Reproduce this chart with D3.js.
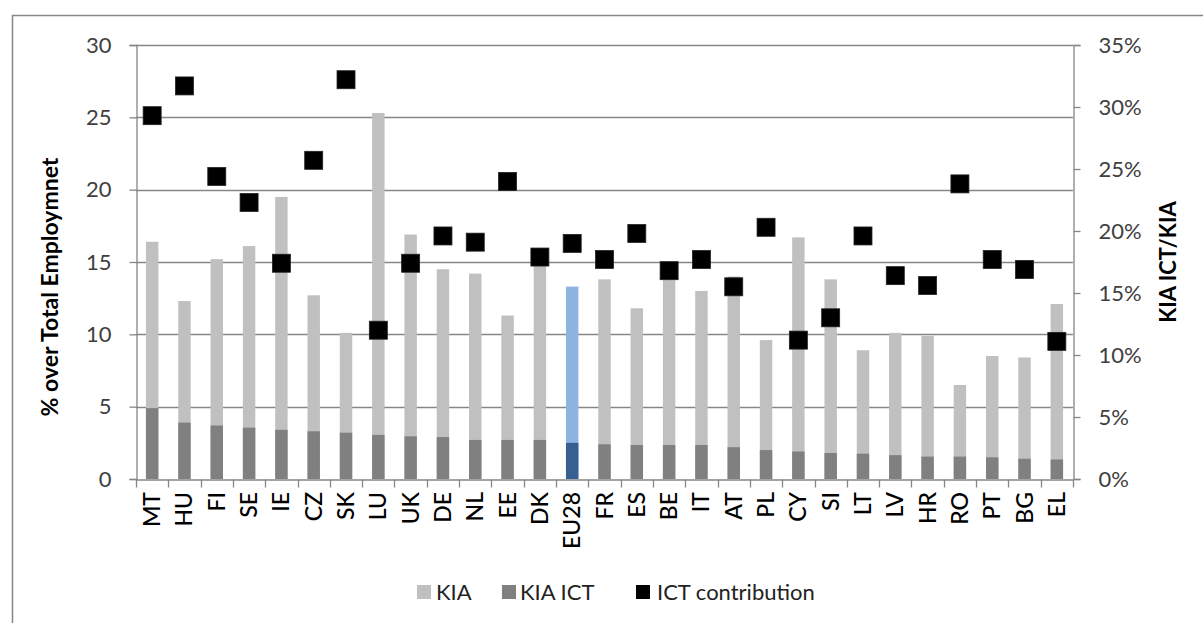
<!DOCTYPE html>
<html>
<head>
<meta charset="utf-8">
<script src="https://cdn.jsdelivr.net/npm/d3@7"></script>
<style>
  body { margin: 0; background: #fff; }
  svg { display: block; }
</style>
</head>
<body>
<svg id="chart" width="1203" height="623"></svg>
<script>
// Knowledge-intensive activities (KIA) employment by country
const countries = ["MT","HU","FI","SE","IE","CZ","SK","LU","UK","DE","NL","EE","DK","EU28","FR","ES","BE","IT","AT","PL","CY","SI","LT","LV","HR","RO","PT","BG","EL"];
// KIA, % over total employment
const kia = [16.4,12.3,15.2,16.1,19.5,12.7,10.1,25.3,16.9,14.5,14.2,11.3,15.1,13.3,13.8,11.8,13.9,13.0,14.0,9.6,16.7,13.8,8.9,10.1,9.9,6.5,8.5,8.4,12.1];
// KIA in ICT, % over total employment
const kiaIct = [4.9,3.9,3.7,3.55,3.4,3.3,3.2,3.05,2.95,2.9,2.7,2.7,2.7,2.5,2.4,2.35,2.35,2.35,2.2,2.0,1.9,1.8,1.75,1.65,1.55,1.55,1.5,1.4,1.35];
// ICT contribution (KIA ICT / KIA), %
const ictContribution = [29.3,31.7,24.4,22.3,17.4,25.7,32.2,12.0,17.4,19.6,19.1,24.0,17.9,19.0,17.7,19.8,16.8,17.7,15.5,20.3,11.2,13.0,19.6,16.4,15.6,23.8,17.7,16.9,11.1];
const leftTicks = [0, 5, 10, 15, 20, 25, 30];
const rightTicks = [0, 5, 10, 15, 20, 25, 30, 35];
const legendItems = ["KIA", "KIA ICT", "ICT contribution"];

const svg = d3.select("#chart");
const font = "Lato, 'Open Sans', sans-serif";
const gridColor = "#868686";

const plot = { left: 136, right: 1073, top: 45, bottom: 479 };

const x = d3.scaleBand().domain(countries).range([plot.left, plot.right]).padding(0);
const yLeft = d3.scaleLinear().domain([0, 30]).range([plot.bottom, plot.top]);
const yRight = d3.scaleLinear().domain([0, 35]).range([plot.bottom, plot.top]);

// outer chart frame
svg.append("rect")
  .attr("x", 12.5).attr("y", 15.5)
  .attr("width", 1400).attr("height", 800)
  .attr("fill", "none").attr("stroke", gridColor).attr("stroke-width", 1.5);

// horizontal gridlines
svg.append("g")
  .selectAll("line")
  .data(leftTicks.filter(d => d > 0))
  .join("line")
  .attr("x1", plot.left).attr("x2", plot.right)
  .attr("y1", d => Math.round(yLeft(d)) + 0.5)
  .attr("y2", d => Math.round(yLeft(d)) + 0.5)
  .attr("stroke", gridColor).attr("stroke-width", 1.3);

// bars: total KIA behind, ICT share in front
const barW = x.bandwidth() * 0.385;
const bars = svg.append("g");
bars.selectAll("rect.kia")
  .data(countries)
  .join("rect")
  .attr("class", "kia")
  .attr("x", d => x(d) + (x.bandwidth() - barW) / 2)
  .attr("width", barW)
  .attr("y", (d, i) => yLeft(kia[i]))
  .attr("height", (d, i) => yLeft(0) - yLeft(kia[i]))
  .attr("fill", d => d === "EU28" ? "#8db4e2" : "#c0c0c0");
bars.selectAll("rect.ict")
  .data(countries)
  .join("rect")
  .attr("class", "ict")
  .attr("x", d => x(d) + (x.bandwidth() - barW) / 2)
  .attr("width", barW)
  .attr("y", (d, i) => yLeft(kiaIct[i]))
  .attr("height", (d, i) => yLeft(0) - yLeft(kiaIct[i]))
  .attr("fill", d => d === "EU28" ? "#376092" : "#808080");

// left axis
const leftAxis = svg.append("g")
  .attr("transform", `translate(${plot.left + 0.5},0)`)
  .call(d3.axisLeft(yLeft).tickValues(leftTicks).tickSize(7).tickPadding(18));
// right axis
const rightAxis = svg.append("g")
  .attr("transform", `translate(${plot.right + 0.5},0)`)
  .call(d3.axisRight(yRight).tickValues(rightTicks).tickSize(7).tickPadding(18)
    .tickFormat(d => d + "%"));
// bottom axis with ticks on category boundaries
const bottomAxis = svg.append("g")
  .attr("transform", `translate(0,${plot.bottom + 0.5})`)
  .call(d3.axisBottom(x).tickSize(0).tickFormat(""));
bottomAxis.selectAll(".bound")
  .data(d3.range(countries.length + 1))
  .join("line")
  .attr("class", "bound")
  .attr("x1", i => Math.round(plot.left + i * x.step()) + 0.5)
  .attr("x2", i => Math.round(plot.left + i * x.step()) + 0.5)
  .attr("y1", 0).attr("y2", 8)
  .attr("stroke", gridColor).attr("stroke-width", 1.3);

[leftAxis, rightAxis, bottomAxis].forEach(g => {
  g.select(".domain").attr("stroke", gridColor).attr("stroke-width", 1.3);
  g.selectAll(".tick line").attr("stroke", gridColor).attr("stroke-width", 1.3);
  g.selectAll(".tick text")
    .attr("font-family", font).attr("font-size", 22).attr("fill", "#404040");
});
rightAxis.selectAll(".tick text").attr("x", 25);

// category labels, rotated
svg.append("g")
  .selectAll("text")
  .data(countries)
  .join("text")
  .attr("transform", d => `translate(${x(d) + x.bandwidth() / 2 + 8},${plot.bottom + 13}) rotate(-90)`)
  .attr("text-anchor", "end")
  .attr("font-family", font).attr("font-size", 23).attr("font-weight", 500).attr("fill", "#000")
  .text(d => d);

// ICT contribution markers
const mk = 18;
svg.append("g")
  .selectAll("rect")
  .data(countries)
  .join("rect")
  .attr("x", d => x(d) + x.bandwidth() / 2 - mk / 2)
  .attr("y", (d, i) => yRight(ictContribution[i]) - mk / 2)
  .attr("width", mk).attr("height", mk)
  .attr("fill", "#000").attr("stroke", "#222").attr("stroke-width", 0.8);

// axis titles
svg.append("text")
  .attr("transform", "translate(58,287) rotate(-90)")
  .attr("text-anchor", "middle")
  .attr("font-family", font).attr("font-size", 23).attr("font-weight", "bold").attr("fill", "#000")
  .text("% over Total Employmnet");
svg.append("text")
  .attr("transform", "translate(1176,262) rotate(-90)")
  .attr("text-anchor", "middle")
  .attr("font-family", font).attr("font-size", 22).attr("font-weight", "bold").attr("fill", "#000")
  .text("KIA ICT/KIA");

// legend
const legendColors = ["#c0c0c0", "#808080", "#000000"];
const legendX = [417, 502, 636];
const legendTextX = [436, 520, 657];
const legend = svg.append("g");
legendItems.forEach((name, i) => {
  legend.append("rect")
    .attr("x", legendX[i]).attr("y", 585)
    .attr("width", 14).attr("height", 14)
    .attr("fill", legendColors[i]);
  legend.append("text")
    .attr("x", legendTextX[i]).attr("y", 600)
    .attr("font-family", font).attr("font-size", 22).attr("fill", "#222")
    .text(name);
});
</script>
</body>
</html>
